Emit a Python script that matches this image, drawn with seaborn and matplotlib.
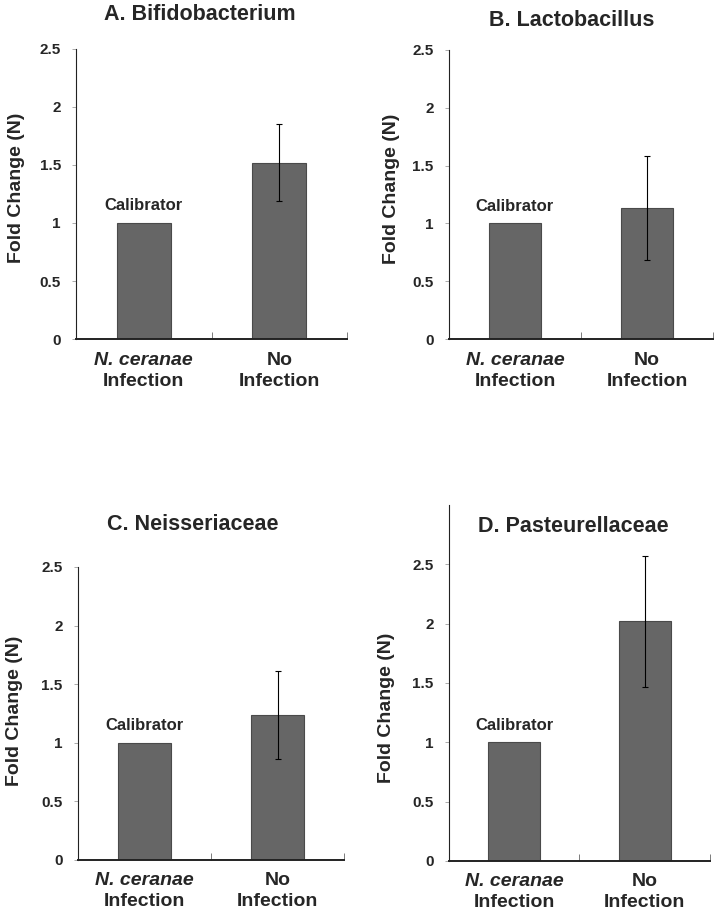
import matplotlib
matplotlib.use("Agg")
import matplotlib.pyplot as plt
import matplotlib.transforms as mtransforms
import seaborn as sns

# data
panel_titles = ["A. Bifidobacterium", "B. Lactobacillus", "C. Neisseriaceae", "D. Pasteurellaceae"]
categories = ["N. ceranae Infection", "No Infection"]
calibrator_vals = [1.0, 1.0, 1.0, 1.0]
no_infection_vals = [1.52, 1.13, 1.24, 2.02]
no_infection_err = [0.33, 0.45, 0.375, 0.55]
y_tick_vals = [0, 0.5, 1, 1.5, 2, 2.5]
y_tick_labels = ["0", "0.5", "1", "1.5", "2", "2.5"]
y_max = [2.5, 2.5, 2.5, 3.0]

sns.set_style("white")
plt.rcParams['font.family'] = ['Liberation Sans', 'DejaVu Sans']
plt.rcParams['font.weight'] = 'bold'

bar_color = '#666666'
edge_color = '#4a4a4a'

# axes boxes in figure fractions [left, bottom, width, height]
boxes = [
    [0.1056, 0.6303, 0.3764, 0.3163],
    [0.6236, 0.6303, 0.3667, 0.3152],
    [0.1083, 0.0622, 0.3695, 0.3195],
    [0.6236, 0.0611, 0.3625, 0.3882],
]
# title centres (pixels from top-left)
title_pos = [(200, 15), (572, 20), (193, 525), (573, 526)]
# y label centres in axes fractions
ylabel_pos = [(-0.218, 0.52), (-0.216, 0.52), (-0.237, 0.51), (-0.238, 0.43)]

fig = plt.figure(figsize=(7.2, 9.17), dpi=100)
W, H = 720, 917

for i in range(4):
    ax = fig.add_axes(boxes[i])
    vals = [calibrator_vals[i], no_infection_vals[i]]
    sns.barplot(x=categories, y=vals, ax=ax, color=bar_color, width=0.4,
                errorbar=None, edgecolor=edge_color, linewidth=0.8, saturation=1)
    ax.errorbar(x=[1], y=[no_infection_vals[i]], yerr=[no_infection_err[i]],
                fmt='none', ecolor='black', elinewidth=0.8, capsize=2, capthick=0.8)

    ax.set_xlim(-0.5, 1.5)
    ax.set_ylim(0, y_max[i])
    ax.set_yticks(y_tick_vals)
    ax.set_yticklabels(y_tick_labels, fontsize=11, fontweight='bold')
    ax.tick_params(axis='y', left=True, length=3, width=0.5, color='#888888', pad=8)
    ax.set_xticks([0.5, 1.5])
    ax.set_xticklabels(["", ""])
    ax.tick_params(axis='x', bottom=True, direction='in', length=5, width=0.6, color='#666666')

    for side in ['top', 'right']:
        ax.spines[side].set_visible(False)
    ax.spines['left'].set_color('#222222')
    ax.spines['left'].set_linewidth(0.8)
    ax.spines['bottom'].set_color('#222222')
    ax.spines['bottom'].set_linewidth(1.4)

    ax.set_ylabel("Fold Change (N)", fontsize=14, fontweight='bold')
    ax.yaxis.label.set_va('center')
    ax.yaxis.set_label_coords(*ylabel_pos[i])
    ax.set_xlabel("")

    # calibrator annotation above first bar
    ax.annotate("Calibrator", xy=(0, calibrator_vals[i]), xytext=(0, 7),
                textcoords='offset points', ha='center', va='bottom',
                fontsize=12, fontweight='bold')

    # two-line category labels under the axis
    trans = mtransforms.blended_transform_factory(ax.transData, ax.transAxes)
    off1 = mtransforms.offset_copy(trans, fig=fig, y=-21, units='dots')
    off2 = mtransforms.offset_copy(trans, fig=fig, y=-42, units='dots')
    ax.text(0, 0, "N. ceranae", transform=off1, ha='center', va='center',
            fontsize=14, fontweight='bold', fontstyle='italic')
    ax.text(0, 0, "Infection", transform=off2, ha='center', va='center',
            fontsize=14, fontweight='bold')
    ax.text(1, 0, "No", transform=off1, ha='center', va='center',
            fontsize=14, fontweight='bold')
    ax.text(1, 0, "Infection", transform=off2, ha='center', va='center',
            fontsize=14, fontweight='bold')

    tx, ty = title_pos[i]
    fig.text(tx / W, 1 - ty / H, panel_titles[i], ha='center', va='center',
             fontsize=15.5, fontweight='bold')

fig.savefig("out.png", dpi=100)
plt.close(fig)
